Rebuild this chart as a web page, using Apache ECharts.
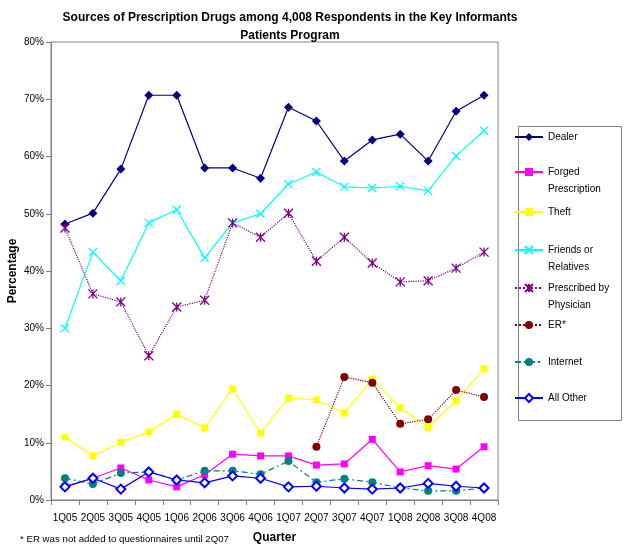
<!DOCTYPE html>
<html>
<head>
<meta charset="utf-8">
<script src="https://cdn.jsdelivr.net/npm/echarts@6/dist/echarts.min.js"></script>
<style>
  html, body { margin: 0; padding: 0; background: #fff; }
  #chart { width: 624px; height: 552px; }
</style>
</head>
<body>
<div id="chart"></div>
<script>
// Quarters on the x axis
const quarters = ["1Q05", "2Q05", "3Q05", "4Q05", "1Q06", "2Q06", "3Q06", "4Q06",
  "1Q07", "2Q07", "3Q07", "4Q07", "1Q08", "2Q08", "3Q08", "4Q08"];

// Percent of respondents per source
const dealer = [48.2, 50.1, 57.8, 70.7, 70.7, 58.0, 58.0, 56.2, 68.6, 66.2, 59.2, 62.9, 63.9, 59.2, 67.9, 70.7];
const forged = [2.4, 3.8, 5.6, 3.5, 2.3, 4.4, 8.0, 7.7, 7.7, 6.1, 6.3, 10.6, 4.9, 6.0, 5.4, 9.3];
const theft = [11.0, 7.7, 10.1, 11.9, 15.0, 12.6, 19.4, 11.7, 17.8, 17.5, 15.2, 21.1, 16.1, 12.7, 17.3, 22.9];
const friends = [30.0, 43.3, 38.3, 48.4, 50.7, 42.3, 48.4, 50.0, 55.2, 57.3, 54.7, 54.5, 54.8, 54.0, 60.1, 64.5];
const prescribed = [47.5, 36.0, 34.6, 25.2, 33.7, 34.9, 48.4, 45.9, 50.1, 41.7, 45.9, 41.4, 38.1, 38.3, 40.5, 43.3];
const er = [null, null, null, null, null, null, null, null, null, 9.3, 21.5, 20.5, 13.3, 14.1, 19.2, 18.0];
const internet = [3.8, 2.8, 4.7, 4.9, 3.5, 5.1, 5.1, 4.5, 6.8, 3.1, 3.7, 3.1, 2.1, 1.6, 1.6, 2.1];
const allOther = [2.3, 3.8, 1.9, 4.9, 3.5, 3.0, 4.2, 3.8, 2.3, 2.4, 2.1, 1.9, 2.1, 2.9, 2.4, 2.1];

// Y axis tick values
const yTicks = [0, 10, 20, 30, 40, 50, 60, 70, 80];

const X_PATH = "path://M0,0L10,10M10,0L0,10";
const STAR_PATH = "path://M0,0L10,10M10,0L0,10M5,0L5,10";

const seriesDefs = [
  { name: "Dealer", data: dealer, color: "#000080", symbol: "diamond", size: 9, type: "solid", label: "Dealer", y: 137 },
  { name: "Forged Prescription", data: forged, color: "#FF00FF", symbol: "rect", size: 7, type: "solid", label: "Forged\nPrescription", y: 172 },
  { name: "Theft", data: theft, color: "#FFFF00", symbol: "rect", size: 7, type: "solid", label: "Theft", y: 212 },
  { name: "Friends or Relatives", data: friends, color: "#00FFFF", symbol: X_PATH, size: 8, type: "solid", stroke: true, label: "Friends or\nRelatives", y: 250 },
  { name: "Prescribed by Physician", data: prescribed, color: "#800080", symbol: STAR_PATH, size: 9, type: "dotted", stroke: true, label: "Prescribed by\nPhysician", y: 288 },
  { name: "ER*", data: er, color: "#800000", symbol: "circle", size: 8, type: "dotted", label: "ER*", y: 325 },
  { name: "Internet", data: internet, color: "#008080", symbol: "circle", size: 8, type: [6, 3, 2, 3], label: "Internet", y: 362 },
  { name: "All Other", data: allOther, color: "#0000FF", symbol: "emptyDiamond", size: 9, type: "solid", label: "All Other", y: 398 }
];

const LH = 17;

const series = seriesDefs.map(function (d) {
  const itemStyle = { color: d.color };
  if (d.stroke) {
    itemStyle.borderColor = d.color;
    itemStyle.borderWidth = 1.3;
  }
  return {
    name: d.name,
    type: "line",
    data: d.data,
    symbol: d.symbol,
    symbolSize: d.size,
    showAllSymbol: true,
    itemStyle: itemStyle,
    lineStyle: { color: d.color, width: 1.2, type: d.type },
    emphasis: { disabled: true },
    animation: false
  };
});

// One legend per entry so each row sits where it does in the original.
// Two-line labels get an empty first line so the icon lines up with the first text line.
const legends = seriesDefs.map(function (d) {
  const twoLines = d.label.indexOf("\n") >= 0;
  const text = twoLines ? "\n" + d.label : d.label;
  const h = twoLines ? LH * 3 : LH;
  return {
    data: [d.name],
    orient: "vertical",
    left: 514,
    top: d.y - h / 2,
    padding: 0,
    itemWidth: 28,
    itemHeight: 10,
    itemGap: 0,
    selectedMode: false,
    formatter: function () { return text; },
    textStyle: {
      fontFamily: "Liberation Sans, Arial, sans-serif",
      fontSize: 10,
      color: "#000",
      lineHeight: LH
    }
  };
});

const chart = echarts.init(document.getElementById("chart"));

chart.setOption({
  backgroundColor: "#fff",
  animation: false,
  title: {
    text: "Sources of Prescription Drugs among 4,008 Respondents in the Key Informants\nPatients Program",
    left: 285,
    top: 4,
    textAlign: "center",
    textStyle: {
      fontFamily: "Liberation Sans, Arial, sans-serif",
      fontSize: 12,
      fontWeight: "bold",
      color: "#000",
      lineHeight: 18
    }
  },
  legend: legends,
  grid: {
    left: 51,
    right: 126,
    top: 42,
    bottom: 52,
    outerBoundsMode: "none",
    containLabel: false,
    show: true,
    borderColor: "#808080",
    borderWidth: 1,
    backgroundColor: "transparent"
  },
  xAxis: {
    type: "category",
    data: quarters,
    boundaryGap: true,
    name: "Quarter",
    nameLocation: "middle",
    nameGap: 32,
    nameMoveOverlap: false,
    nameTextStyle: {
      fontFamily: "Liberation Sans, Arial, sans-serif",
      fontSize: 12,
      fontWeight: "bold",
      color: "#000"
    },
    axisLine: { lineStyle: { color: "#808080" } },
    axisTick: { show: true, interval: 0, length: 5, lineStyle: { color: "#808080" } },
    axisLabel: {
      interval: 0,
      margin: 13,
      fontFamily: "Liberation Sans, Arial, sans-serif",
      fontSize: 10,
      color: "#000"
    },
    splitLine: { show: false }
  },
  yAxis: {
    type: "value",
    min: yTicks[0],
    max: yTicks[yTicks.length - 1],
    interval: 10,
    name: "Percentage",
    nameLocation: "middle",
    nameGap: 32,
    nameMoveOverlap: false,
    nameTextStyle: {
      fontFamily: "Liberation Sans, Arial, sans-serif",
      fontSize: 12,
      fontWeight: "bold",
      color: "#000"
    },
    axisLine: { show: true, lineStyle: { color: "#808080" } },
    axisTick: { show: true, length: 5, lineStyle: { color: "#808080" } },
    axisLabel: {
      formatter: "{value}%",
      margin: 7,
      fontFamily: "Liberation Sans, Arial, sans-serif",
      fontSize: 10,
      color: "#000"
    },
    splitLine: { show: false }
  },
  graphic: [
    {
      type: "rect",
      left: 516,
      top: 124,
      shape: { width: 103, height: 294 },
      style: { fill: "none", stroke: "#808080", lineWidth: 1 },
      z: 0
    },
    {
      type: "text",
      left: 20,
      top: 534,
      style: {
        text: "* ER was not added to questionnaires until 2Q07",
        font: "9.7px 'Liberation Sans', Arial, sans-serif",
        fill: "#000"
      }
    }
  ],
  series: series
});
</script>
</body>
</html>
